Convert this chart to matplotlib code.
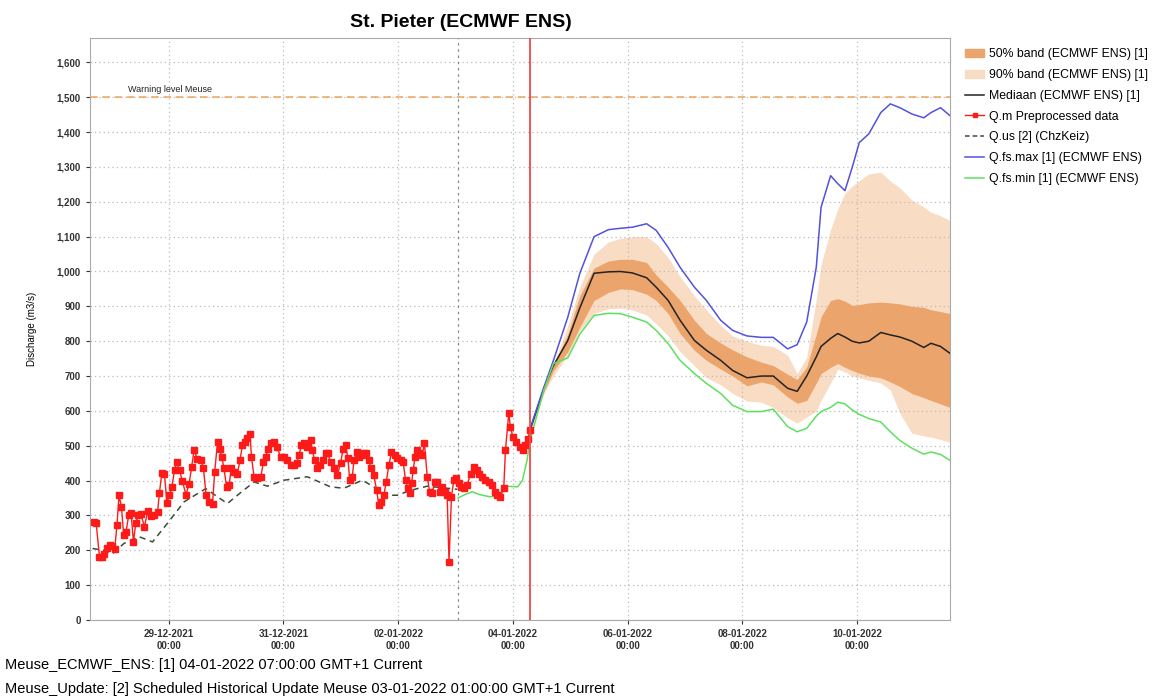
import pandas as pd
import matplotlib
matplotlib.use('Agg')
import matplotlib.pyplot as plt
import matplotlib.dates as mdates
from matplotlib.patches import Patch
from matplotlib.lines import Line2D

plt.rcParams['font.family'] = ['Liberation Sans', 'DejaVu Sans']

# hours since 29-12-2021 00:00
base = pd.Timestamp('2021-12-29 00:00')

# Q.m preprocessed observations
obs_hours = [-31.5, -30.4, -29.0, -28.0, -27.0, -25.9, -24.8, -23.7, -22.6, -21.7,
             -20.8, -19.8, -18.9, -17.9, -16.8, -15.8, -14.8, -13.8, -12.7, -11.6,
             -10.2, -8.8, -7.4, -6.0, -4.7, -3.9, -2.9, -1.8, -0.8, 0.3,
             1.3, 2.4, 3.3, 4.5, 5.7, 7.2, 8.5, 9.6, 10.6, 12.0,
             13.4, 14.5, 15.6, 16.8, 18.3, 19.2, 20.4,
             21.3, 22.2, 23.1, 24.2, 25.2, 26.2, 27.3, 28.7, 29.8, 30.8,
             31.9, 32.9, 34.0, 34.6, 35.7, 37.1, 38.5, 39.6, 40.6, 41.5,
             42.9, 44.0, 45.4, 46.8, 48.2, 49.6, 51.0, 52.4, 53.5, 54.5,
             55.5, 56.6, 58.0, 59.4, 60.1, 61.0, 62.2, 63.3, 64.7, 65.6,
             66.6, 67.7,
             69.1, 70.5, 71.9, 73.0, 74.0, 75.0, 75.7, 76.8, 77.5, 78.6,
             79.6, 80.7, 81.6, 82.7, 83.7, 84.7, 85.8, 87.0, 87.9, 88.9,
             90.0, 91.0, 92.1, 93.2, 94.5, 95.6, 97.0, 98.1, 99.1, 100.0,
             100.9, 101.6, 102.3, 103.0, 104.0, 104.9, 106.1, 107.0, 108.2, 109.2,
             110.2, 111.3, 112.3, 113.4, 114.4, 115.4, 116.5, 117.3, 118.3,
             119.3, 120.4, 121.4, 122.4, 123.5, 124.9, 126.3, 127.6, 128.8, 130.0,
             131.1, 132.5, 133.9, 135.3, 136.4, 137.4, 138.8, 140.2, 140.9, 142.3,
             143.0, 144.1, 145.5, 146.9, 148.2, 149.2, 150.2, 151.3]
obs_vals = [280, 278, 182, 180, 190, 208, 215, 213, 205, 272,
            358, 324, 245, 252, 300, 308, 225, 278, 302, 303,
            268, 312, 298, 300, 310, 365, 422, 418, 336, 358,
            382, 430, 452, 430, 398, 360, 390, 440, 487, 462,
            460, 435, 360, 340, 332, 424, 510,
            490, 468, 435, 382, 387, 435, 424, 420, 458, 501,
            510, 521, 535, 468, 410, 407, 410, 453, 467, 492,
            507, 510, 496, 467, 467, 458, 444, 444, 450, 473,
            501, 507, 496, 516, 487, 458, 435, 444, 458, 478,
            478, 453,
            435, 415, 450, 492, 501, 464, 401, 410, 458, 481,
            467, 473, 478, 478, 458, 435, 415, 372, 330, 338,
            358, 396, 444, 481, 473, 464, 458, 453, 401, 378,
            363, 392, 430, 467, 487, 478, 473, 507, 410, 367,
            363, 396, 396, 367, 382, 367, 358, 167, 353,
            401, 407, 392, 382, 378, 387, 420, 440, 430, 420,
            410, 401, 396, 387, 367, 358, 353, 378, 487, 593,
            553, 524, 510, 496, 487, 501, 518, 545]

# Q.us [2] (ChzKeiz)
us_hours = [-31.9, -27.0, -23.5, -18.7, -12.4, -6.8, -0.5, 6.4, 15.5, 24.5,
            30.0, 35.7, 41.3, 48.2, 58.0, 67.7, 73.3, 81.0, 85.8, 90.0,
            95.6, 101.2, 108.2, 120.8]
us_vals = [205, 200, 190, 220, 239, 224, 278, 339, 377, 334,
           365, 396, 384, 401, 411, 382, 378, 401, 382, 358,
           358, 372, 384, 375]

# ECMWF ENS forecast
fc_hours = [151, 157, 161, 167, 172, 178, 184, 189, 194, 200,
            204, 209, 214, 220, 225, 231, 236, 242, 248, 253,
            259, 263, 267, 271, 273, 277, 280, 283, 286, 289,
            293, 298, 302, 306, 311, 316, 319, 323, 327]
fc_max = [545, 668, 745, 869, 994, 1100, 1120, 1124, 1127, 1137,
          1118, 1069, 1012, 955, 917, 860, 831, 815, 811, 811,
          778, 790, 855, 1012, 1184, 1275, 1252, 1232, 1298, 1370,
          1395, 1456, 1481, 1470, 1452, 1441, 1456, 1470, 1447]
fc_q95 = [540, 665, 735, 845, 955, 1050, 1085, 1095, 1100, 1100,
          1080, 1040, 985, 930, 890, 845, 815, 800, 788, 785,
          760, 707, 754, 920, 1020, 1120, 1180, 1225, 1245, 1261,
          1280, 1285, 1260, 1240, 1205, 1185, 1170, 1160, 1146]
fc_q75 = [540, 662, 730, 820, 930, 1010, 1030, 1035, 1035, 1026,
          990, 955, 917, 860, 822, 795, 775, 755, 740, 730,
          705, 690, 726, 820, 870, 917, 922, 915, 903, 905,
          910, 912, 910, 907, 900, 897, 890, 885, 879]
fc_med = [540, 665, 730, 802, 895, 995, 999, 1000, 996, 982,
          955, 917, 860, 802, 774, 745, 716, 695, 700, 700,
          665, 656, 700, 755, 785, 808, 822, 812, 800, 795,
          800, 825, 818, 812, 800, 782, 794, 785, 765]
fc_q25 = [540, 655, 715, 770, 840, 917, 940, 950, 948, 935,
          917, 879, 822, 774, 745, 720, 700, 672, 683, 675,
          640, 622, 630, 680, 707, 725, 736, 725, 716, 708,
          700, 695, 683, 670, 650, 638, 630, 620, 610]
fc_q05 = [540, 650, 700, 760, 830, 880, 893, 895, 890, 875,
          850, 815, 770, 730, 695, 675, 650, 628, 625, 610,
          580, 565, 582, 600, 630, 680, 720, 712, 700, 695,
          688, 680, 660, 593, 536, 528, 525, 518, 510]
fc_min = [510, 660, 736, 752, 820, 874, 880, 879, 869, 855,
          831, 793, 745, 707, 679, 650, 616, 598, 598, 605,
          555, 540, 550, 585, 598, 610, 625, 620, 603, 590,
          578, 568, 540, 515, 493, 476, 482, 475, 458]
min_pre_hours = [121, 124, 127, 130, 134, 138, 141, 146, 148, 150]
min_pre_vals = [350, 360, 368, 360, 354, 354, 384, 382, 400, 460]

warning_level = 1500
t0 = base + pd.Timedelta(hours=151)              # 04-01-2022 07:00
hist_update = base + pd.Timedelta(hours=121)     # 03-01-2022 01:00


def to_time(hours):
    return base + pd.to_timedelta(hours, unit='h')


t_obs = to_time(obs_hours)
t_us = to_time(us_hours)
t_fc = to_time(fc_hours)
t_min = to_time(min_pre_hours + fc_hours)

fig = plt.figure(figsize=(11.53, 7.0), dpi=100)
ax = fig.add_axes([0.078, 0.1143, 0.746, 0.8314])

c50 = '#eba46b'
c90 = '#f9dcc4'
ax.fill_between(t_fc, fc_q05, fc_q95, color=c90, lw=0, zorder=1)
ax.fill_between(t_fc, fc_q25, fc_q75, color=c50, lw=0, zorder=2)
ax.plot(t_fc, fc_med, color='#222222', lw=1.1, zorder=4)
ax.plot(t_fc, fc_max, color='#5252dc', lw=1.1, zorder=4)
ax.plot(t_min, min_pre_vals + fc_min, color='#5ee05e', lw=1.1, zorder=4)
ax.plot(t_us, us_vals, color='#3c4c3c', lw=1.1, ls=(0, (4, 3)), zorder=3)
ax.plot(t_obs, obs_vals, color='#ff1a1a', lw=1.0, marker='s', ms=4.2,
        mec='#ff1a1a', mfc='#ff1a1a', zorder=5)

ax.axhline(warning_level, color='#f0a45c', lw=1.1, ls=(0, (5, 3)), zorder=3)
ax.text(base + pd.Timedelta(hours=-17), warning_level + 8, 'Warning level Meuse',
        fontsize=6.5, color='#222222', va='bottom')
ax.axvline(t0, color='#f04848', lw=1.3, zorder=6)
ax.axvline(hist_update, color='#888888', lw=0.9, ls=(0, (2, 3)), zorder=3)

ax.set_xlim(base + pd.Timedelta(hours=-33), base + pd.Timedelta(hours=327))
ax.set_ylim(0, 1670)
ax.set_yticks(range(0, 1700, 100))
ax.yaxis.set_major_formatter(matplotlib.ticker.FuncFormatter(lambda v, p: f'{int(v):,}'))
ax.set_xticks([base + pd.Timedelta(days=d) for d in range(0, 13, 2)])
ax.xaxis.set_major_formatter(mdates.DateFormatter('%d-%m-%Y\n%H:%M'))
ax.tick_params(labelsize=7, colors='#333333', length=3, width=0.8)
for lab in ax.get_xticklabels() + ax.get_yticklabels():
    lab.set_fontweight('bold')
ax.grid(True, color='#bbbbbb', ls=(0, (1, 2.5)), lw=0.9)
for s in ax.spines.values():
    s.set_color('#aaaaaa')
ax.set_ylabel('Discharge (m3/s)', fontsize=7, labelpad=14)

fig.text(0.40, 0.968, 'St. Pieter (ECMWF ENS)', fontsize=14, fontweight='bold',
         ha='center', va='center')

handles = [Patch(color=c50), Patch(color=c90),
           Line2D([], [], color='#222222', lw=1.1),
           Line2D([], [], color='#ff1a1a', lw=1.0, marker='s', ms=3),
           Line2D([], [], color='#3c4c3c', lw=1.1, ls=(0, (3, 2))),
           Line2D([], [], color='#5252dc', lw=1.1),
           Line2D([], [], color='#5ee05e', lw=1.1)]
labels = ['50% band (ECMWF ENS) [1]', '90% band (ECMWF ENS) [1]',
          'Mediaan (ECMWF ENS) [1]', 'Q.m Preprocessed data',
          'Q.us [2] (ChzKeiz)', 'Q.fs.max [1] (ECMWF ENS)', 'Q.fs.min [1] (ECMWF ENS)']
fig.legend(handles, labels, loc='upper left', bbox_to_anchor=(0.833, 0.938),
           frameon=False, fontsize=8.8, handlelength=1.5, handletextpad=0.4,
           labelspacing=0.72, borderaxespad=0)

fig.text(0.004, 0.05, 'Meuse_ECMWF_ENS: [1] 04-01-2022 07:00:00 GMT+1 Current', fontsize=10.5,
         va='center')
fig.text(0.004, 0.015, 'Meuse_Update: [2] Scheduled Historical Update Meuse 03-01-2022 01:00:00 GMT+1 Current',
         fontsize=10.5, va='center')

fig.savefig('out.png', dpi=100)
